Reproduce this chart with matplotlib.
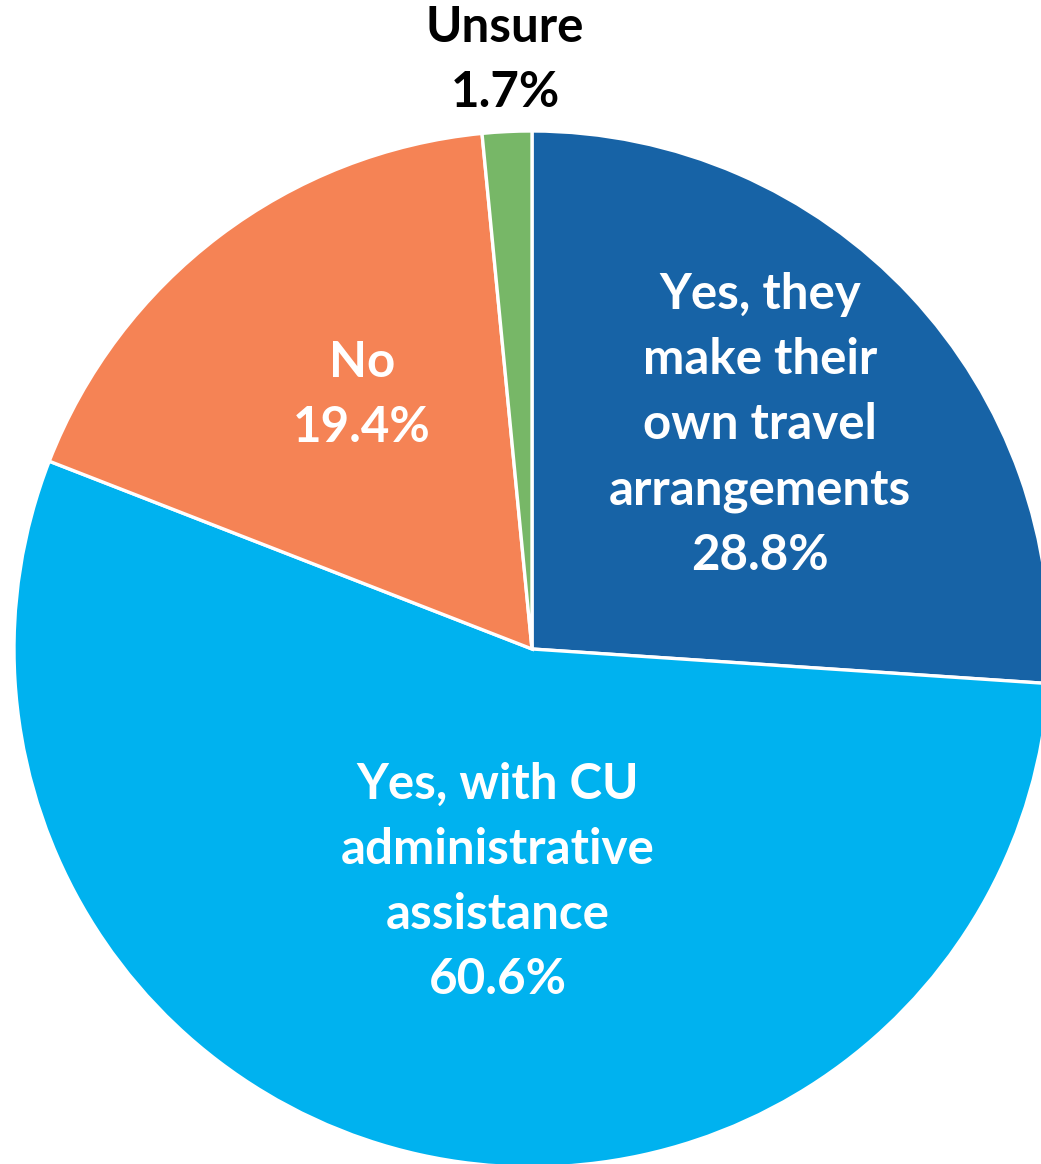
import matplotlib
matplotlib.use("Agg")
import matplotlib.pyplot as plt

categories = ["Yes, they\nmake their\nown travel\narrangements",
              "Yes, with CU\nadministrative\nassistance",
              "No",
              "Unsure"]
values = [28.8, 60.6, 19.4, 1.7]
colors = ["#1763A6", "#00B2EF", "#F58355", "#77B767"]

W, H = 1041, 1164
fig = plt.figure(figsize=(W / 100, H / 100), dpi=100)
ax = fig.add_axes([0, 0, 1, 1])

cx, cy, r = 532, H - 649, 518
wedges, _ = ax.pie(values, colors=colors, startangle=90, counterclock=False,
                   center=(cx, cy), radius=r,
                   wedgeprops=dict(edgecolor="white", linewidth=2.4))
ax.set_xlim(0, W)
ax.set_ylim(0, H)
ax.set_aspect("equal")
ax.axis("off")

font = dict(family=["Lato", "DejaVu Sans"], fontweight="bold", fontsize=35.5,
            ha="center", va="center", linespacing=1.54)
label_pos = [(760, 425, "white"), (498, 882, "white"), (362, 395, "white"), (505, 60, "black")]
for cat, val, (x, y, c) in zip(categories, values, label_pos):
    ax.text(x, H - y, f"{cat}\n{val}%", color=c, **font)

fig.savefig("out.png", dpi=100)
